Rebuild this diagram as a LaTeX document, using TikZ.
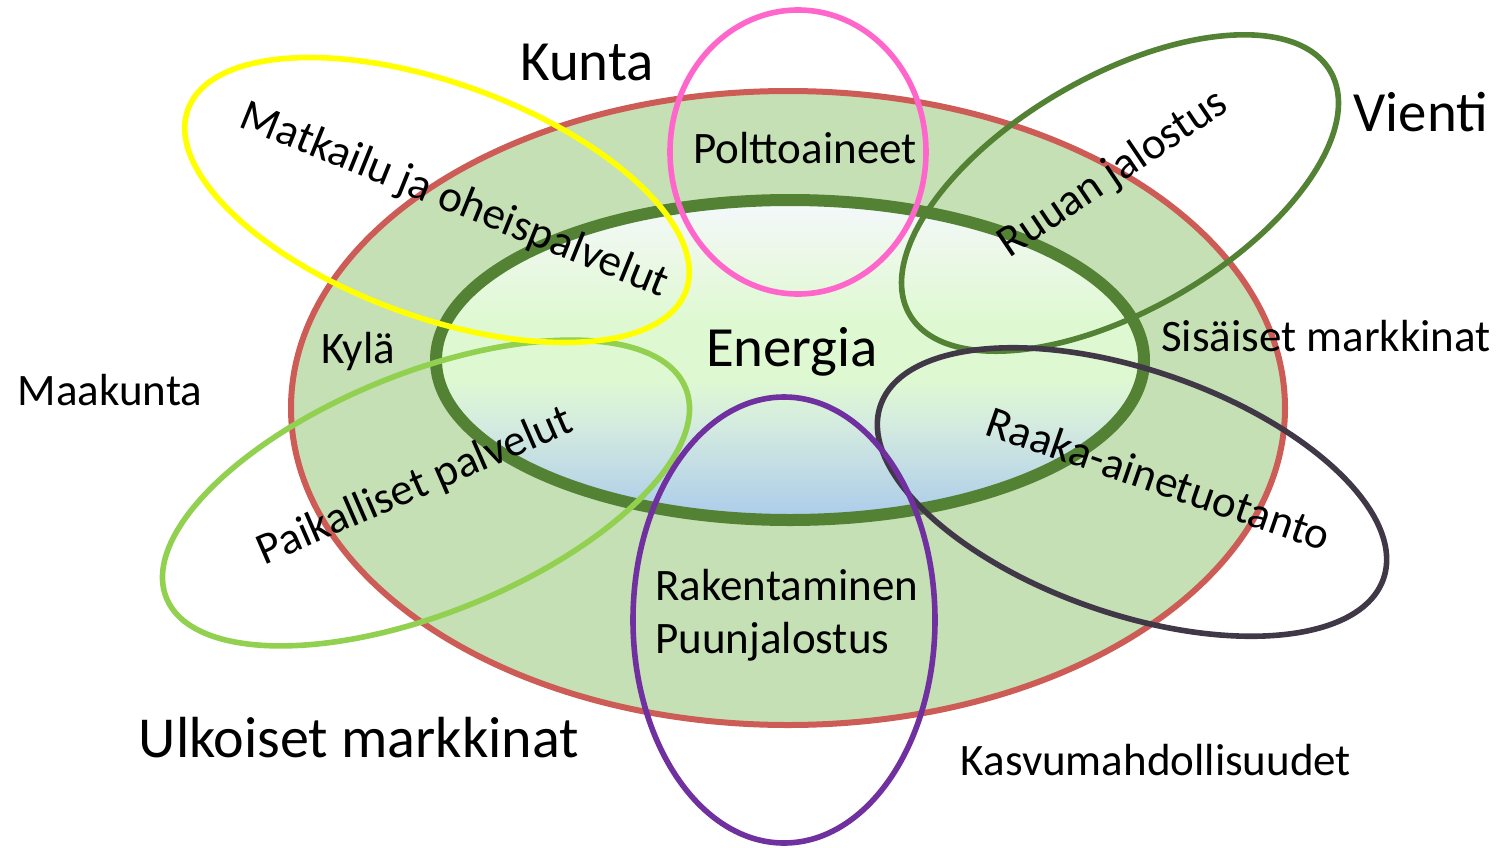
\documentclass[tikz,border=0pt]{standalone}
\usepackage{fontspec}
\setmainfont{Carlito}
\usetikzlibrary{positioning}

\definecolor{ringfill}{HTML}{C5E0B4}
\definecolor{ringred}{HTML}{CD5B56}
\definecolor{coregreen}{HTML}{548235}
\definecolor{coretop}{HTML}{F4F8FC}
\definecolor{coreup}{HTML}{EBF8E6}
\definecolor{coremid}{HTML}{DEF9D2}
\definecolor{coremix}{HTML}{D4EBDF}
\definecolor{corebot}{HTML}{ABCBEB}
\definecolor{tourism}{HTML}{FFFF00}
\definecolor{fuel}{HTML}{FF66CC}
\definecolor{local}{HTML}{92D050}
\definecolor{rawmat}{HTML}{403847}
\definecolor{build}{HTML}{7030A0}

\pgfdeclareverticalshading{coreshade}{100bp}{color(0bp)=(corebot); color(25bp)=(corebot); color(40bp)=(coremix); color(47bp)=(coremid); color(56bp)=(coremid); color(66bp)=(coreup); color(75bp)=(coretop); color(100bp)=(coretop)}

\begin{document}
\begin{tikzpicture}[x=0.5pt, y=-0.5pt]

        \def\ringw{3pt}             % border of the outer ring
        \def\corew{6pt}             % border of the energy core
        \def\loopw{2.8pt}           % border of the sector ellipses
        \tikzstyle{smalltext}=[inner sep=0pt, text=black, fontscale=22.5]
        \tikzstyle{bigtext}=[inner sep=0pt, text=black, fontscale=28.4]
        \tikzset{fontscale/.style = {font={\fontsize{#1pt}{#1pt}\selectfont}}}

        \useasboundingbox (0,0) rectangle (1501,847);

        % Draw the outer ring and the energy core
            \draw[draw=ringred, line width=\ringw, fill=ringfill] (788,408) ellipse [x radius=497, y radius=317];
            \draw[draw=coregreen, line width=\corew, shading=coreshade] (790,360) ellipse [x radius=354, y radius=160];

        % Draw the tilted sector ellipses
            \foreach \cx/\cy/\rx/\ry/\ang/\col in {426/493/280/120/22/local, 437/200/265/117/-20/tourism, 1120/193/243/117/30/coregreen, 1132/492/266/122/-19/rawmat}{
                \draw[\col, line width=\loopw, rotate around={\ang:(\cx,\cy)}] (\cx,\cy) ellipse [x radius=\rx, y radius=\ry];
            }
        % Draw the upright ones
            \draw[fuel, line width=\loopw] (798,152) ellipse [x radius=128, y radius=142];
            \draw[build, line width=\loopw] (784,620) ellipse [x radius=151, y radius=223];

        % Annotate the levels
            \node[bigtext, anchor=base] (kunta) at (587,80) {Kunta};
            \node[bigtext, anchor=base] (vienti) at (1421,131) {Vienti};
            \node[bigtext, anchor=base] (energia) at (792,366) {Energia};
            \node[bigtext, anchor=base, fontscale=29] (ulkoiset) at (359,757) {Ulkoiset markkinat};
            \node[smalltext, anchor=base] (maakunta) at (110,405) {Maakunta};
            \node[smalltext, anchor=base] (kyla) at (358,363) {Kylä};
            \node[smalltext, anchor=base] (sisaiset) at (1326,351) {Sisäiset markkinat};
            \node[smalltext, anchor=base] (kasvu) at (1156,775) {Kasvumahdollisuudet};

        % Annotate the sectors
            \node[smalltext, anchor=base] (poltto) at (805,163) {Polttoaineet};
            \node[smalltext, anchor=base west] (rak) at (655,600) {Rakentaminen};
            \node[smalltext, anchor=base west] (puu) at (655,653) {Puunjalostus};
            \node[smalltext, anchor=base, rotate=-22] (matkailu) at (450,212) {Matkailu ja oheispalvelut};
            \node[smalltext, anchor=base, rotate=34] (ruoka) at (1120,184) {Ruuan jalostus};
            \node[smalltext, anchor=base, rotate=23.5] (paikal) at (420,498) {Paikalliset palvelut};
            \node[smalltext, anchor=base, rotate=-19] (raaka) at (1154,493) {Raaka-ainetuotanto};

\end{tikzpicture}
\end{document}
